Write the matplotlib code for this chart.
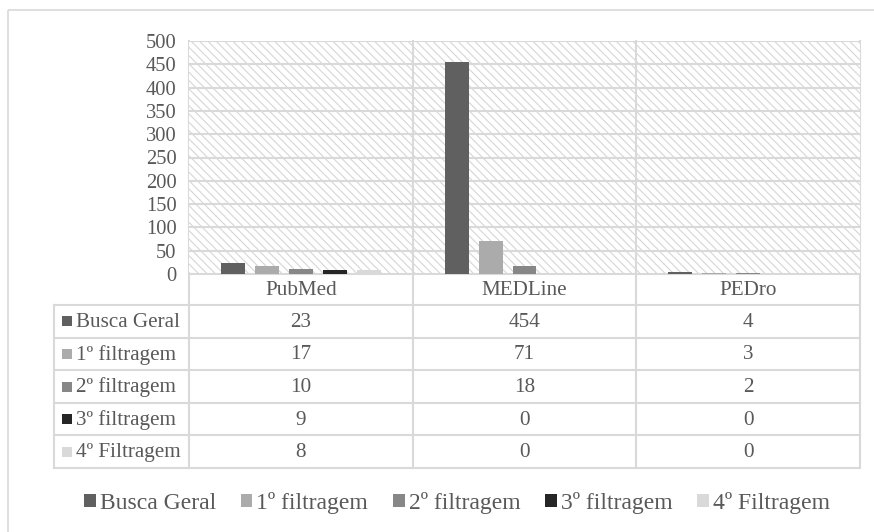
import matplotlib.pyplot as plt
from matplotlib.patches import Rectangle
import numpy as np

# Data
bases = ['PubMed', 'MEDLine', 'PEDro']
series = ['Busca Geral', '1º filtragem', '2º filtragem', '3º filtragem', '4º Filtragem']
busca_geral = [23, 454, 4]
filtragem_1 = [17, 71, 3]
filtragem_2 = [10, 18, 2]
filtragem_3 = [9, 0, 0]
filtragem_4 = [8, 0, 0]
values = [busca_geral, filtragem_1, filtragem_2, filtragem_3, filtragem_4]
colors = ['#606060', '#ababab', '#878787', '#262626', '#d9d9d9']

plt.rcParams['font.family'] = ['Liberation Serif', 'DejaVu Serif']
txt = '#595959'
grid = '#d9d9d9'
fs = 15.2

W, H = 874, 532
fig = plt.figure(figsize=(W / 100, H / 100), dpi=100)

# plot area in pixels
px0, px1, py0, py1 = 189, 860, 41, 274
ax = fig.add_axes([px0 / W, 1 - py1 / H, (px1 - px0) / W, (py1 - py0) / H])
ax.set_xlim(0, 3)
ax.set_ylim(0, 500)

# hatched background
plt.rcParams['hatch.linewidth'] = 0.8
bg = Rectangle((0, 0), 1, 1, transform=ax.transAxes, facecolor='white',
               edgecolor='#d6d6d6', hatch='\\\\\\\\', linewidth=0, zorder=0)
ax.add_patch(bg)

ax.set_yticks(np.arange(0, 501, 50))
ax.yaxis.grid(True, color=grid, linewidth=1.5)
ax.set_axisbelow(True)
ax.tick_params(axis='y', length=0, pad=9, labelsize=14.8, labelcolor=txt)
ax.set_xticks([])
for s in ['top', 'right', 'left', 'bottom']:
    ax.spines[s].set_visible(False)

width = 24 / 224
step = 34 / 224
x = np.arange(len(bases)) + 0.5
handles = []
for i, (vals, c) in enumerate(zip(values, colors)):
    b = ax.bar(x + (i - 2) * step, vals, width=width, color=c, zorder=3, label=series[i])
    handles.append(b)
for k in range(1, len(bases)):
    ax.axvline(k, color=grid, linewidth=1.5, zorder=1)

# table drawn in pixel coordinates
ov = fig.add_axes([0, 0, 1, 1], zorder=-1)
ov.set_xlim(0, W)
ov.set_ylim(H, 0)
ov.axis('off')

# outer chart border
ov.add_patch(Rectangle((8, 10), 900, 600, facecolor='none', edgecolor=grid, linewidth=1.2))

lc = 54
rows = [305, 337.6, 370.2, 402.8, 435.4, 468]
colx = [px0 + (px1 - px0) * k / 3 for k in range(4)]
lw = 1.5
# header row
ov.plot([px0, px1], [py1, py1], color=grid, lw=lw)
for cx in colx:
    ov.plot([cx, cx], [py0, rows[-1]], color=grid, lw=lw)
ov.plot([lc, lc], [rows[0], rows[-1]], color=grid, lw=lw)
for ry in rows:
    ov.plot([lc, px1], [ry, ry], color=grid, lw=lw)

for j, name in enumerate(bases):
    ov.text((colx[j] + colx[j + 1]) / 2, (py1 + rows[0]) / 2 + 1, name,
            ha='center', va='center', fontsize=fs, color=txt)

for i, name in enumerate(series):
    yc = (rows[i] + rows[i + 1]) / 2
    ov.add_patch(Rectangle((62, yc - 5), 10, 10, facecolor=colors[i], edgecolor='none'))
    ov.text(76, yc + 1, name, ha='left', va='center', fontsize=fs, color=txt)
    for j in range(len(bases)):
        ov.text((colx[j] + colx[j + 1]) / 2, yc + 1, str(values[i][j]),
                ha='center', va='center', fontsize=fs, color=txt)

leg = fig.legend(handles=handles, loc='center', bbox_to_anchor=(457 / W, 1 - 503 / H),
                 ncol=5, frameon=False, fontsize=17, handlelength=0.5, handleheight=0.5,
                 handletextpad=0.17, columnspacing=1.05, labelcolor=txt)

fig.savefig('out.png', dpi=100)
